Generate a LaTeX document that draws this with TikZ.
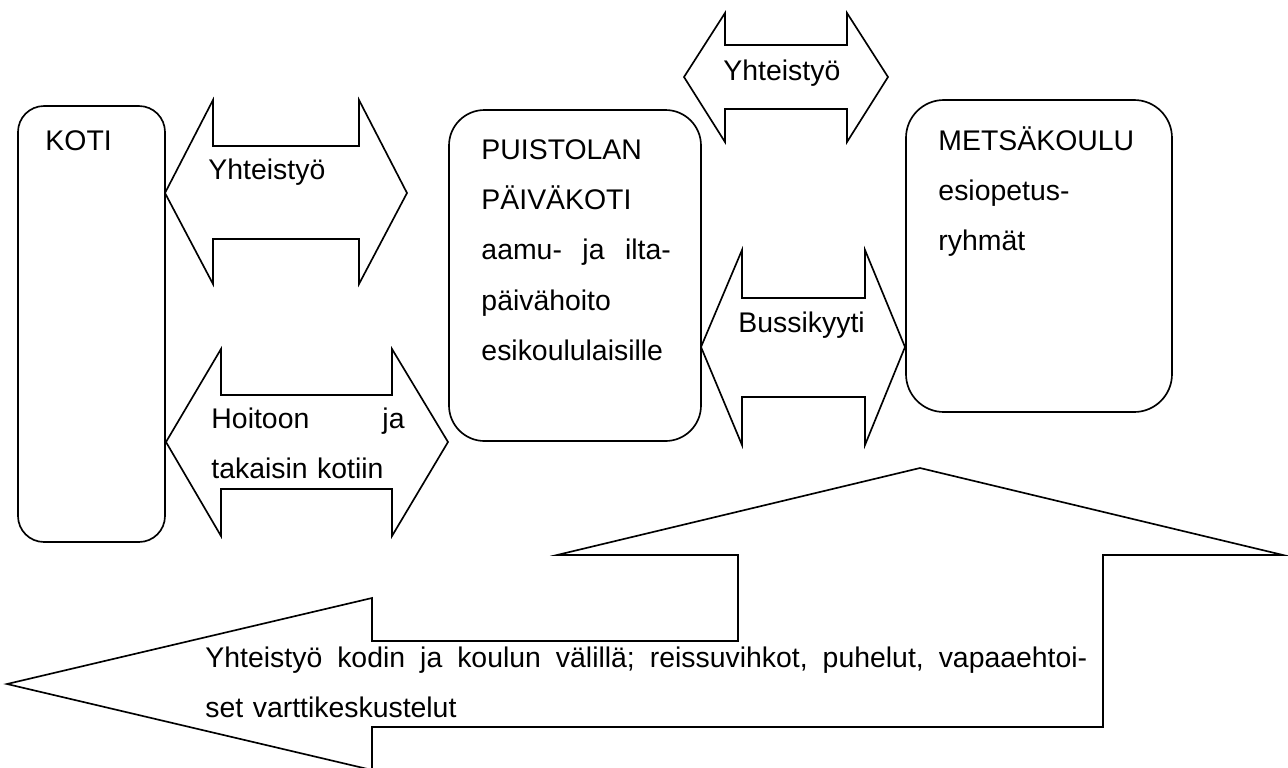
\documentclass[tikz,border=0pt]{standalone}
\usepackage{fontspec}
\setmainfont{Liberation Sans}

\tikzset{
  shape line/.style={draw, line width=0.7pt, line join=miter},
  box text/.style={anchor=base west, inner sep=0pt, align=left,
    font=\fontsize{12}{21.3}\selectfont},
}

\begin{document}
\begin{tikzpicture}[x=0.4225pt, y=-0.4225pt]

	  \useasboundingbox (0,0) rectangle (1288,767);

	  %----------------------------------------------------------------
	  % boxes
	  \draw [shape line] [rounded corners=11pt] (18,106) rectangle (165,542);
	  \draw [shape line] [rounded corners=15pt] (449,110) rectangle (701,441);
	  \draw [shape line] [rounded corners=16pt] (906,100) rectangle (1172,412);

	  \node (koti) [box text, text width=40pt] at (45,150) {KOTI};
	  \node (puistola) [box text, text width=80pt] at (481,159)
	    {PUISTOLAN\\PÄIVÄKOTI\\aamu-\hfill ja\hfill ilta-\\päivähoito\\esikoululaisille};
	  \node (metsakoulu) [box text, text width=90pt] at (938,150) {METSÄKOULU\\esiopetus-\\ryhmät};

	  %----------------------------------------------------------------
	  % double arrows
	  \draw [shape line] (165,193) -- (213,100) -- (213,146) -- (359,146) -- (359,100) -- (407,193)
	    -- (359,284) -- (359,239) -- (213,239) -- (213,284) -- cycle;
	  \draw [shape line] (166,442) -- (221,349) -- (221,395) -- (392,395) -- (392,349) -- (448,442)
	    -- (392,536) -- (392,489) -- (221,489) -- (221,536) -- cycle;
	  \draw [shape line] (684,77) -- (725,13) -- (725,45) -- (847,45) -- (847,13) -- (888,77)
	    -- (847,142) -- (847,109) -- (725,109) -- (725,142) -- cycle;
	  \draw [shape line] (701,347) -- (742,250) -- (742,298) -- (865,298) -- (865,250) -- (905,347)
	    -- (865,445) -- (865,397) -- (742,397) -- (742,445) -- cycle;

	  \node (yht koti) [box text, text width=60pt] at (208,179) {Yhteistyö};
	  \node (hoito) [box text, text width=81.6pt] at (211,428) {Hoitoon\hfill ja\\takaisin kotiin};
	  \node (yht koulu) [box text, text width=60pt] at (723,80) {Yhteistyö};
	  \node (bussi) [box text, text width=60pt] at (738,332) {Bussikyyti};

	  %----------------------------------------------------------------
	  % bent arrow at the bottom
	  \draw [shape line] (7,684) -- (372,598) -- (372,641) -- (738,641) -- (738,555) -- (557,555)
	    -- (920,468) -- (1283,555) -- (1103,555) -- (1103,727) -- (372,727) -- (372,770) -- cycle;

	  \node (reissu) [box text, text width=372.6pt] at (205,667)
	    {Yhteistyö\hfill kodin\hfill ja\hfill koulun\hfill välillä;\hfill reissuvihkot,\hfill puhelut,\hfill vapaaehtoi-\\set varttikeskustelut};

\end{tikzpicture}
\end{document}
